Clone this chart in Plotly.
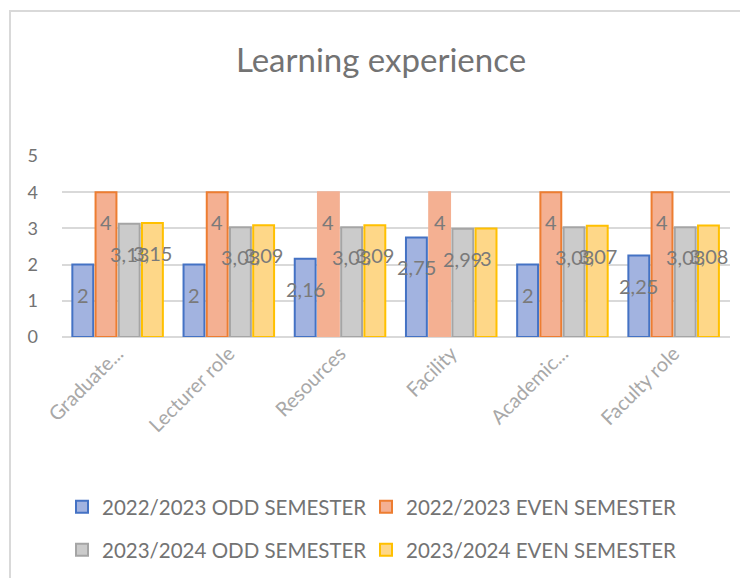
import plotly.graph_objects as go

# ── data ──────────────────────────────────────────────────────────────────────
categories = ["Graduate...", "Lecturer role", "Resources", "Facility",
              "Academic...", "Faculty role"]

odd_2223 = [2, 2, 2.16, 2.75, 2, 2.25]
even_2223 = [4, 4, 4, 4, 4, 4]
odd_2324 = [3.13, 3.03, 3.03, 2.99, 3.03, 3.03]
even_2324 = [3.15, 3.09, 3.09, 3, 3.07, 3.08]

series_names = ["2022/2023 ODD SEMESTER", "2022/2023 EVEN SEMESTER",
                "2023/2024 ODD SEMESTER", "2023/2024 EVEN SEMESTER"]

# ── style ─────────────────────────────────────────────────────────────────────
FILLS = ["#a2b3e0", "#f4b092", "#cbcbcb", "#fed788"]
LINES = ["#4472c4", "#ed7d31", "#a5a5a5", "#ffc000"]
FONT = "Lato, 'Open Sans', sans-serif"
TEXT_GREY = "#737373"

OFF = 8                     # page body margin in the html wrapper
W, H = 748 - OFF, 578 - OFF
L, R, T, B = 54, 18, 148, 241
PW, PH = W - L - R, H - T - B
BARGAP = 0.165
SLOT = PW / len(categories) * (1 - BARGAP) / 4   # px per bar slot

# legend entry anchors in screen pixels (2 x 2 grid)
LEGEND_POS = [(62, 507), (366, 507), (62, 550), (366, 550)]


def fmt(v):
    s = f"{v:.2f}".rstrip("0").rstrip(".")
    return s.replace(".", ",")


# helpers take screen pixels and return paper fractions
def px_x(x):
    return (x - OFF - L) / PW


def px_y(y):
    return (H - B - (y - OFF)) / PH


fig = go.Figure()
all_series = [odd_2223, even_2223, odd_2324, even_2324]
legend_ids = ["legend", "legend2", "legend3", "legend4"]
for i, (name, vals) in enumerate(zip(series_names, all_series)):
    line_cols = [LINES[i]] * len(vals)
    if i == 1:  # two orange bars are drawn without an outline in the source
        line_cols[2] = FILLS[i]
        line_cols[3] = FILLS[i]
    fig.add_trace(go.Bar(
        x=categories, y=vals, name=name,
        marker=dict(color=FILLS[i], line=dict(color=line_cols, width=2)),
        legend=legend_ids[i],
    ))
    # value labels sit ~30px under the top of each bar, overlapping like Excel
    for cat, v in zip(categories, vals):
        fig.add_annotation(
            x=cat, y=v, text=fmt(v), showarrow=False,
            xshift=(i - 1.5) * SLOT, yshift=-30, yanchor="middle",
            font=dict(family=FONT, size=20, color="#7a7a7a"),
        )

legend_common = dict(
    orientation="h", xanchor="left", yanchor="middle",
    font=dict(family=FONT, size=20.5, color=TEXT_GREY),
    itemwidth=30, bgcolor="rgba(0,0,0,0)",
)
legends = {lid: dict(x=px_x(x), y=px_y(y), **legend_common)
           for lid, (x, y) in zip(legend_ids, LEGEND_POS)}

fig.update_layout(
    width=W, height=H,
    margin=dict(l=L, r=R, t=T, b=B, autoexpand=False),
    paper_bgcolor="white", plot_bgcolor="white",
    barmode="group", bargap=BARGAP, bargroupgap=0.1,
    font=dict(family=FONT, color=TEXT_GREY, size=16),
    title=dict(text="Learning experience", x=px_x(381), xanchor="center",
               xref="paper", y=1 - (60 - OFF) / H, yanchor="middle",
               font=dict(family=FONT, size=33, color=TEXT_GREY)),
    showlegend=True,
    **legends,
)

fig.update_yaxes(range=[0, 5], dtick=1, showgrid=True, gridcolor="#d9d9d9",
                 gridwidth=1.5, zeroline=True, zerolinecolor="#d9d9d9",
                 zerolinewidth=1.5, showline=False, ticks="",
                 ticklabelstandoff=23, automargin=False,
                 tickfont=dict(family=FONT, size=18, color=TEXT_GREY))
fig.update_xaxes(tickangle=-45, showline=False, ticks="", automargin=False,
                 tickfont=dict(family=FONT, size=20, color="#a8a8a8"))

# outer chart frame (only top and left edges fall inside the picture)
fig.add_shape(type="rect", xref="paper", yref="paper",
              x0=px_x(10), x1=px_x(778), y0=px_y(600), y1=px_y(11),
              line=dict(color="#d9d9d9", width=2), layer="below")

fig.write_html("out.html")
